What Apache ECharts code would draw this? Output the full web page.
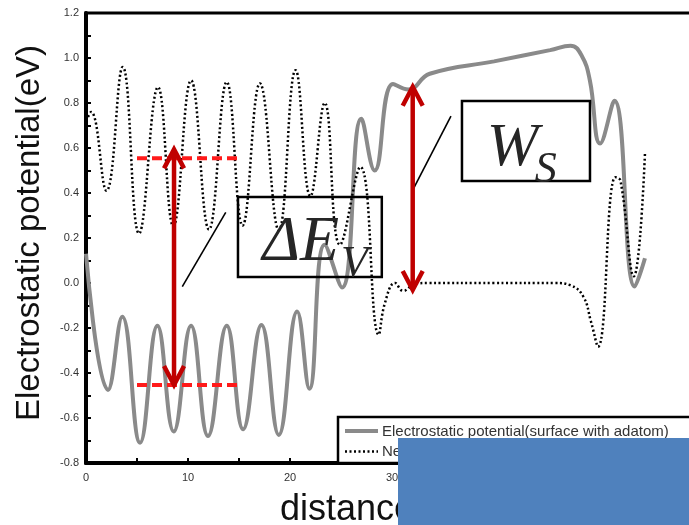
<!DOCTYPE html>
<html><head><meta charset="utf-8">
<script src="https://cdn.jsdelivr.net/npm/echarts@6/dist/echarts.min.js"></script>
<style>html,body{margin:0;padding:0;background:#fff}#c{width:689px;height:525px}</style>
</head><body><div id="c"></div>
<script>
// ---- data (extrema and shape points) ----
const xGray = [0,2.16,3.56,5.3,7.0,8.6,10.3,11.96,13.8,15.4,17.2,18.9,20.7,21.9,23.4,25.1,27.0,28.3,30.1,31.6,33.7,40,45.5,47.5,48.6,49.4,50.4,51.8,53.8,54.8];
const yGray = [0.13,-0.475,-0.15,-0.71,-0.19,-0.66,-0.19,-0.68,-0.19,-0.65,-0.187,-0.675,-0.127,-0.47,0.17,-0.02,0.73,0.50,0.885,0.86,0.93,0.985,1.035,1.055,1.01,0.90,0.62,0.81,-0.016,0.11];
const xDot = [0,0.5,2.0,3.6,5.2,7.06,8.56,10.3,12.06,13.8,15.35,17.05,18.9,20.55,22.0,23.4,24.9,26.9,28.7,29.3,30.3,31.1,32.3,33.5,40,46,47.5,48.75,49.5,50.2,51.9,52.4,53.7,54.8];
const yDot = [0.72,0.76,0.41,0.96,0.22,0.87,0.253,0.90,0.238,0.893,0.255,0.887,0.235,0.946,0.386,0.80,0.17,0.516,-0.23,-0.09,0.0,-0.035,-0.003,0.0,0.0,0.0,-0.01,-0.06,-0.17,-0.283,0.47,0.455,0.03,0.575];
const seriesNames = ['Electrostatic potential(surface with adatom)', 'Neutral surface'];
const xTitle = 'distance';
const yTitle = 'Electrostatic potential(eV)';
// annotation anchors in data coordinates
const dashUpper = {x1:5.0, x2:15.1, y:0.555};
const dashLower = {x1:5.0, x2:15.1, y:-0.453};
const arrowDE = {x:8.63, yTop:0.594, yBot:-0.453};
const arrowWS = {x:32.03, yTop:0.872, yBot:-0.031};
const leaderDE = [[9.44,-0.016],[13.7,0.314]];
const leaderWS = [[32.03,0.413],[35.78,0.742]];
const boxDE = [[14.9,0.382],[29.0,0.027]];
const boxWS = [[36.86,0.809],[49.41,0.453]];

const pairs = (xs, ys) => xs.map((x, i) => [x, ys[i]]);
const chart = echarts.init(document.getElementById('c'), null, {renderer:'canvas'});
const SANS = 'Liberation Sans, Arial, sans-serif';
const SERIF = '"Liberation Serif", "Times New Roman", serif';
const tickStyle = {color:'#000', width:2};
const GRAY = '#8a8a8a';
const dotStyle = {color:'#000', width:2.5, type:[2,2.5]};
chart.setOption({
  animation:false,
  grid:{left:86, top:13, width:612, height:450, containLabel:false, outerBoundsMode:'none',
    show:true, borderColor:'#000', borderWidth:3, backgroundColor:'transparent'},
  xAxis:{type:'value', min:0, max:60, interval:10,
    axisLine:{show:true, onZero:false, lineStyle:{color:'#000', width:4}},
    axisTick:{show:true, inside:true, length:5, lineStyle:tickStyle},
    minorTick:{show:true, splitNumber:2, length:5, lineStyle:tickStyle},
    splitLine:{show:false},
    axisLabel:{fontSize:11, color:'#333', margin:9, fontFamily:SANS}},
  yAxis:{type:'value', min:-0.8, max:1.2, interval:0.2,
    axisLine:{show:true, onZero:false, lineStyle:{color:'#000', width:4}},
    axisTick:{show:true, inside:true, length:5, lineStyle:tickStyle},
    minorTick:{show:true, splitNumber:2, length:5, lineStyle:tickStyle},
    splitLine:{show:false},
    axisLabel:{fontSize:11, color:'#333', margin:7, fontFamily:SANS, formatter:v => v.toFixed(1)}},
  series:[
    {type:'line', name:seriesNames[0], data:pairs(xGray, yGray), smooth:0.45, symbol:'none', showSymbol:false,
      lineStyle:{color:GRAY, width:4}, itemStyle:{color:GRAY}, z:3},
    {type:'line', name:seriesNames[1], data:pairs(xDot, yDot), smooth:0.45, symbol:'none', showSymbol:false,
      lineStyle:dotStyle, itemStyle:{color:'#000'}, z:4}
  ]
});

const P = (x, y) => chart.convertToPixel({gridIndex:0}, [x, y]);
const g = [];
const RED = '#c00000';
function dashed(d){ const a = P(d.x1, d.y), b = P(d.x2, d.y);
  g.push({type:'line', z:50, shape:{x1:a[0], y1:a[1], x2:b[0], y2:b[1]}, style:{stroke:'#ff1a1a', lineWidth:4, lineDash:[10,5]}}); }
function arrow(a){ const t = P(a.x, a.yTop), b = P(a.x, a.yBot);
  g.push({type:'line', z:51, shape:{x1:t[0], y1:t[1]+2, x2:b[0], y2:b[1]-2}, style:{stroke:RED, lineWidth:4.5}});
  g.push({type:'polyline', z:51, shape:{points:[[t[0]-10, t[1]+19],[t[0], t[1]],[t[0]+10, t[1]+19]]}, style:{stroke:RED, lineWidth:4.5, fill:null}});
  g.push({type:'polyline', z:51, shape:{points:[[b[0]-10, b[1]-19],[b[0], b[1]],[b[0]+10, b[1]-19]]}, style:{stroke:RED, lineWidth:4.5, fill:null}}); }
function leader(l){ const a = P(l[0][0], l[0][1]), b = P(l[1][0], l[1][1]);
  g.push({type:'line', z:50, shape:{x1:a[0], y1:a[1], x2:b[0], y2:b[1]}, style:{stroke:'#000', lineWidth:1.6}}); }
function box(r){ const a = P(r[0][0], r[0][1]), b = P(r[1][0], r[1][1]);
  g.push({type:'rect', z:50, shape:{x:a[0], y:a[1], width:b[0]-a[0], height:b[1]-a[1]}, style:{stroke:'#000', lineWidth:2.5, fill:null}}); }
function txt(s, x, y, size){ const p = P(x, y);
  g.push({type:'text', z:52, style:{text:s, x:p[0], y:p[1], font:'italic '+size+'px '+SERIF, fill:'#262626', align:'left', verticalAlign:'middle', textAlign:'left', textVerticalAlign:'middle'}}); }
dashed(dashUpper); dashed(dashLower);
arrow(arrowDE); arrow(arrowWS);
leader(leaderDE); leader(leaderWS);
box(boxDE); box(boxWS);
txt('\u0394E', 17.3, 0.175, 64); txt('V', 25.0, 0.082, 44);
txt('W', 39.3, 0.596, 62); txt('S', 44.0, 0.50, 44);
// legend frame and entries
g.push({type:'rect', z:5, shape:{x:338, y:417, width:400, height:46}, style:{stroke:'#000', lineWidth:2.5, fill:'#fff'}});
g.push({type:'line', z:6, shape:{x1:345, y1:431, x2:378, y2:431}, style:{stroke:GRAY, lineWidth:4}});
g.push({type:'line', z:6, shape:{x1:345, y1:451.5, x2:378, y2:451.5}, style:{stroke:'#000', lineWidth:2.5, lineDash:[2,2.5]}});
g.push({type:'text', z:6, style:{text:seriesNames[0], x:382, y:432, font:'15px '+SANS, fill:'#333', align:'left', verticalAlign:'middle', textAlign:'left', textVerticalAlign:'middle'}});
g.push({type:'text', z:6, style:{text:seriesNames[1], x:382, y:452, font:'15px '+SANS, fill:'#333', align:'left', verticalAlign:'middle', textAlign:'left', textVerticalAlign:'middle'}});
// axis titles
g.push({type:'text', z:10, x:30, y:233, rotation:Math.PI/2, style:{text:yTitle, x:0, y:0, font:'33px '+SANS, fill:'#111', align:'center', verticalAlign:'middle', textAlign:'center', textVerticalAlign:'middle'}});
g.push({type:'text', z:10, style:{text:xTitle, x:280, y:510, font:'36px '+SANS, fill:'#111', align:'left', verticalAlign:'middle', textAlign:'left', textVerticalAlign:'middle'}});
// blue block covering lower right
g.push({type:'rect', z:100, shape:{x:398, y:438, width:300, height:100}, style:{fill:'#4f81bd'}});
chart.setOption({graphic:{elements:g}});
</script></body></html>
